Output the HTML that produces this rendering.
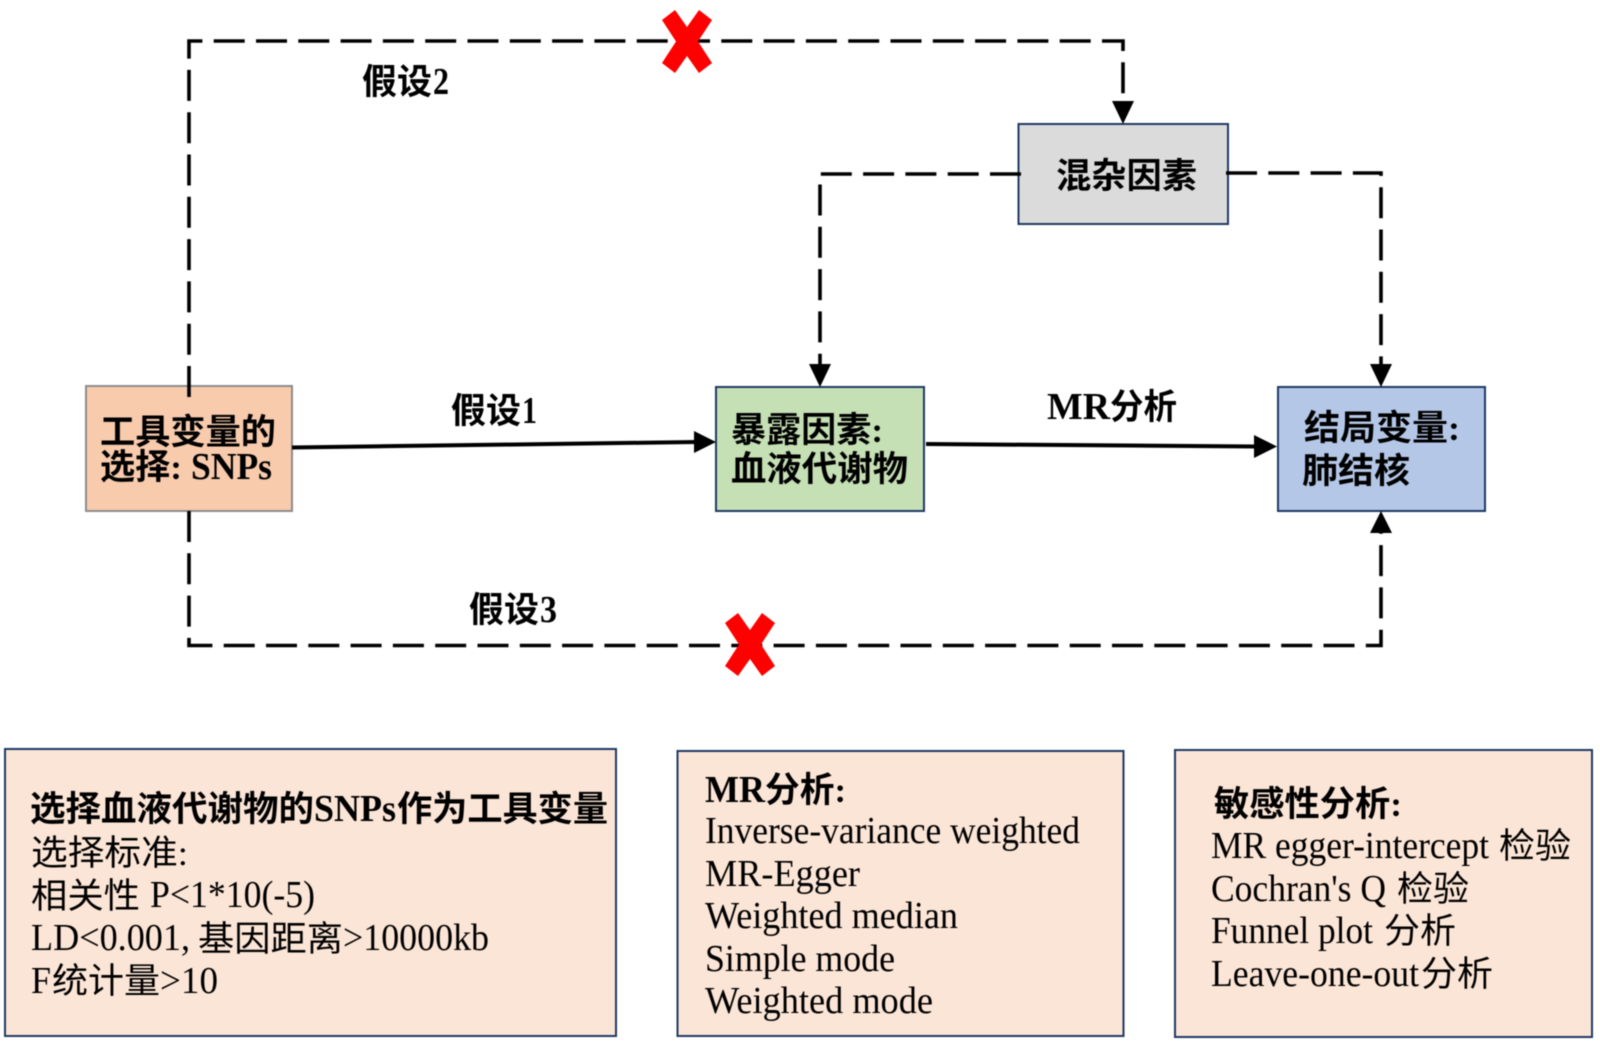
<!DOCTYPE html>
<html>
<head>
<meta charset="utf-8">
<style>
html,body{margin:0;padding:0;background:#fff;width:1600px;height:1044px;overflow:hidden}
svg{display:block;filter:blur(0.4px)}
text{font-family:"Liberation Serif","Noto Sans CJK SC",serif;fill:#000}
.b{font-weight:700;font-size:35px}
.bl{font-weight:700;font-size:38px}
.r{font-size:35px}
.l{font-size:38px}
.d{fill:none;stroke:#000;stroke-width:3.6;stroke-dasharray:31 11.3}
.s{stroke:#000;stroke-width:4;fill:none}
</style>
</head>
<body>
<svg width="1600" height="1044" viewBox="0 0 1600 1044" xmlns="http://www.w3.org/2000/svg">
<rect width="1600" height="1044" fill="#fff"/>

<!-- boxes -->
<rect x="86" y="386" width="206" height="125" fill="#f8cbad" stroke="#8c8c8c" stroke-width="2"/>
<rect x="716.500" y="387" width="208" height="124" fill="#c5e0b4" stroke="#1f3864" stroke-width="2" transform="translate(-0.500 0)"/>
<rect x="1281" y="387" width="207" height="124" fill="#b4c7e7" stroke="#1f3864" stroke-width="2" transform="translate(-3 0)"/>
<rect x="1018.500" y="124" width="209.500" height="100" fill="#dbdbdb" stroke="#1f3864" stroke-width="2"/>
<rect x="5" y="749" width="611" height="287" fill="#fbe5d6" stroke="#1f3864" stroke-width="2"/>
<rect x="677.500" y="751" width="446" height="285" fill="#fbe5d6" stroke="#1f3864" stroke-width="2"/>
<rect x="1176" y="750" width="417" height="287" fill="#fbe5d6" stroke="#1f3864" stroke-width="2" transform="translate(-1 0)"/>

<!-- dashed connectors -->
<path class="d" d="M189 397V41H1123V102"/>
<path class="d" d="M189 511V645.500H1381V533"/>
<path class="d" d="M1021 174H820V364"/>
<path class="d" d="M1226 173H1381V364"/>

<!-- arrowheads -->
<polygon points="1112,101 1134,101 1123,124"/>
<polygon points="809,364 831,364 820,387"/>
<polygon points="1370,364 1392,364 1381,387"/>
<polygon points="1370,533 1392,533 1381,511"/>

<!-- solid arrows -->
<path class="s" d="M292 447.500L696 442"/>
<polygon points="694,431 694,453 716,442"/>
<path class="s" d="M926 444L1256 446.500"/>
<polygon points="1254,435 1254,458 1277,446.500"/>

<!-- red crosses -->
<polygon fill="#ff0000" points="662,20 675,10 687,27 699,10 712,20 698,41.500 712,63 699,73 687,56 675,73 662,63 676,41.500"/>
<polygon fill="#ff0000" points="725,623 738,613 750,630 762,613 775,623 761,644.500 775,666 762,676 750,659 738,676 725,666 739,644.500"/>

<!-- labels -->
<text class="b" x="362" y="94" textLength="70" lengthAdjust="spacingAndGlyphs">假设</text>
<text class="bl" x="433" y="94" textLength="16" lengthAdjust="spacingAndGlyphs">2</text>
<text class="b" x="451" y="423" textLength="70" lengthAdjust="spacingAndGlyphs">假设</text>
<text class="bl" x="522" y="423" textLength="15" lengthAdjust="spacingAndGlyphs">1</text>
<text class="b" x="469" y="622" textLength="70" lengthAdjust="spacingAndGlyphs">假设</text>
<text class="bl" x="540" y="622" textLength="17" lengthAdjust="spacingAndGlyphs">3</text>
<text class="bl" x="1047" y="419" textLength="63" lengthAdjust="spacingAndGlyphs">MR</text>
<text class="b" x="1110" y="419" textLength="67" lengthAdjust="spacingAndGlyphs">分析</text>

<text class="b" x="1056" y="188" textLength="141" lengthAdjust="spacingAndGlyphs">混杂因素</text>
<text class="b" x="100" y="444" textLength="176" lengthAdjust="spacingAndGlyphs">工具变量的</text>
<text class="b" x="100" y="479" textLength="82" lengthAdjust="spacingAndGlyphs">选择:</text>
<text class="bl" x="191" y="479" textLength="81" lengthAdjust="spacingAndGlyphs">SNPs</text>
<text class="b" x="731" y="442" textLength="152" lengthAdjust="spacingAndGlyphs">暴露因素:</text>
<text class="b" x="731" y="481" textLength="177" lengthAdjust="spacingAndGlyphs">血液代谢物</text>
<text class="b" x="1304" y="440" textLength="156" lengthAdjust="spacingAndGlyphs">结局变量:</text>
<text class="b" x="1302" y="483" textLength="108" lengthAdjust="spacingAndGlyphs">肺结核</text>

<!-- box 1 -->
<text class="b" x="30" y="821" textLength="284" lengthAdjust="spacingAndGlyphs">选择血液代谢物的</text>
<text class="bl" x="314" y="821" textLength="82" lengthAdjust="spacingAndGlyphs">SNPs</text>
<text class="b" x="397" y="821" textLength="211" lengthAdjust="spacingAndGlyphs">作为工具变量</text>
<text class="r" x="31" y="865" textLength="157" lengthAdjust="spacingAndGlyphs">选择标准:</text>
<text class="r" x="31" y="908" textLength="109" lengthAdjust="spacingAndGlyphs">相关性</text>
<text class="l" x="150" y="907" textLength="165" lengthAdjust="spacingAndGlyphs">P&lt;1*10(-5)</text>
<text class="l" x="31" y="950" textLength="159" lengthAdjust="spacingAndGlyphs">LD&lt;0.001,</text>
<text class="r" x="198" y="951" textLength="145" lengthAdjust="spacingAndGlyphs">基因距离</text>
<text class="l" x="343" y="950" textLength="146" lengthAdjust="spacingAndGlyphs">&gt;10000kb</text>
<text class="l" x="31" y="993" textLength="20" lengthAdjust="spacingAndGlyphs">F</text>
<text class="r" x="52" y="993" textLength="108" lengthAdjust="spacingAndGlyphs">统计量</text>
<text class="l" x="160" y="993" textLength="58" lengthAdjust="spacingAndGlyphs">&gt;10</text>

<!-- box 2 -->
<text class="bl" x="705" y="802" textLength="60" lengthAdjust="spacingAndGlyphs">MR</text>
<text class="b" x="765" y="802" textLength="81" lengthAdjust="spacingAndGlyphs">分析:</text>
<text class="l" x="705" y="843" textLength="375" lengthAdjust="spacingAndGlyphs">Inverse-variance weighted</text>
<text class="l" x="705" y="886" textLength="155" lengthAdjust="spacingAndGlyphs">MR-Egger</text>
<text class="l" x="705" y="928" textLength="253" lengthAdjust="spacingAndGlyphs">Weighted median</text>
<text class="l" x="705" y="971" textLength="190" lengthAdjust="spacingAndGlyphs">Simple mode</text>
<text class="l" x="705" y="1013" textLength="228" lengthAdjust="spacingAndGlyphs">Weighted mode</text>

<!-- box 3 -->
<text class="b" x="1214" y="816" textLength="188" lengthAdjust="spacingAndGlyphs">敏感性分析:</text>
<text class="l" x="1211" y="858" textLength="278" lengthAdjust="spacingAndGlyphs">MR egger-intercept</text>
<text class="r" x="1499" y="858" textLength="72" lengthAdjust="spacingAndGlyphs">检验</text>
<text class="l" x="1211" y="901" textLength="175" lengthAdjust="spacingAndGlyphs">Cochran's Q</text>
<text class="r" x="1397" y="901" textLength="72" lengthAdjust="spacingAndGlyphs">检验</text>
<text class="l" x="1211" y="943" textLength="162" lengthAdjust="spacingAndGlyphs">Funnel plot</text>
<text class="r" x="1384" y="943" textLength="72" lengthAdjust="spacingAndGlyphs">分析</text>
<text class="l" x="1211" y="986" textLength="208" lengthAdjust="spacingAndGlyphs">Leave-one-out</text>
<text class="r" x="1421" y="986" textLength="72" lengthAdjust="spacingAndGlyphs">分析</text>
</svg>
</body>
</html>
